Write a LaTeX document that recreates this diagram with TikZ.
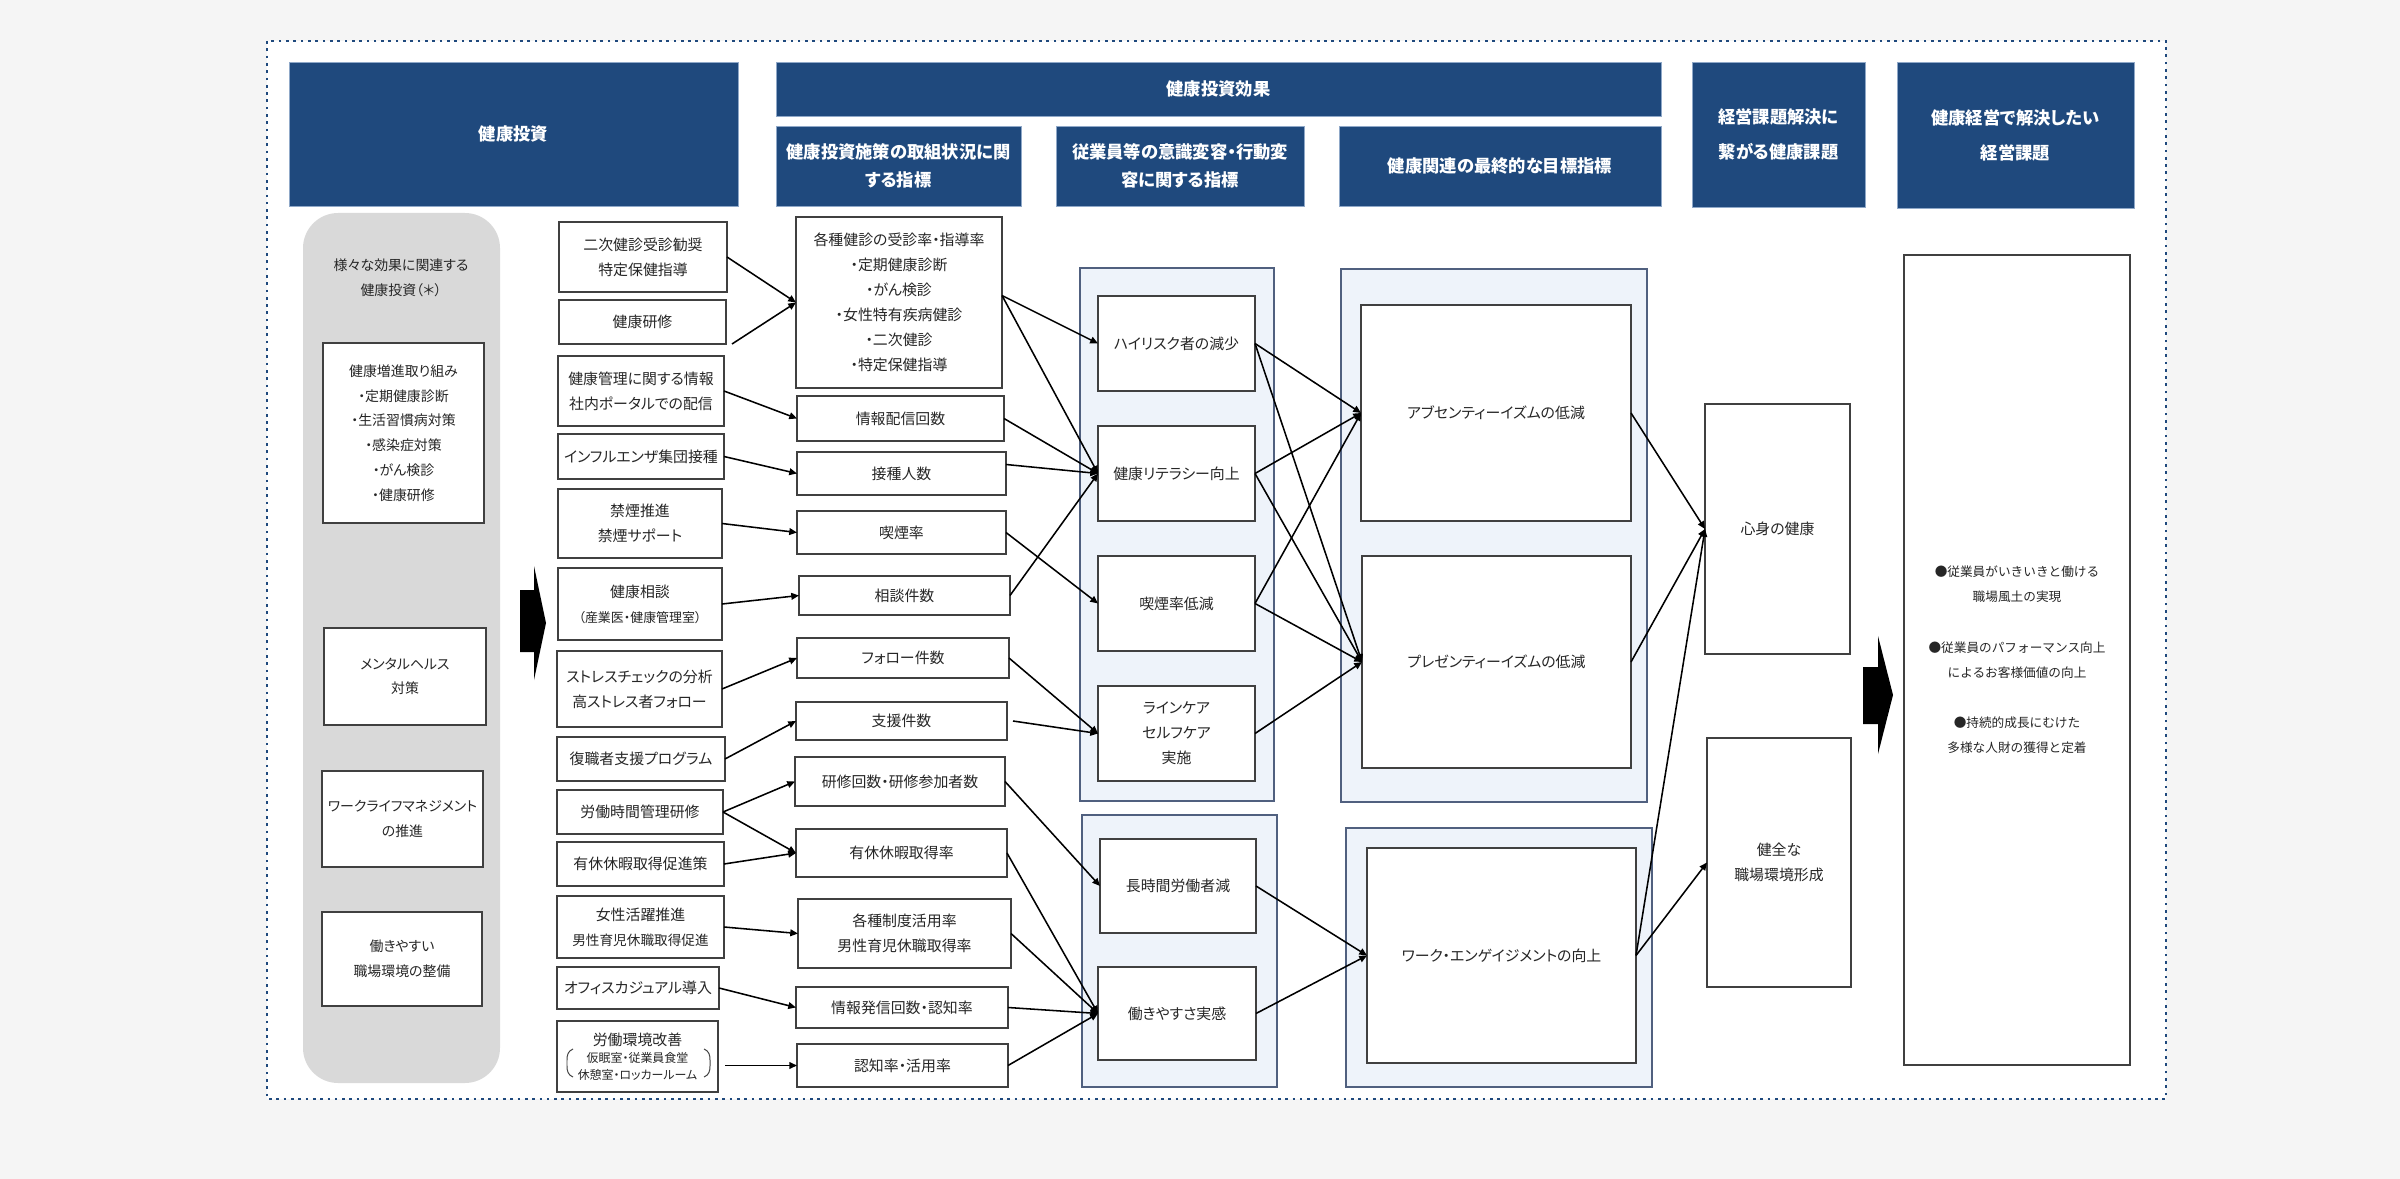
\documentclass[tikz,border=0pt]{standalone}
\usepackage{fontspec}
\setmainfont{Noto Sans CJK JP}[RawFeature=+palt]
\newfontfamily\jpfull{Noto Sans CJK JP}
\usetikzlibrary{arrows.meta,calc}
\definecolor{hdr}{HTML}{1F497D}
\definecolor{hdredge}{HTML}{8FA8C8}
\definecolor{boxline}{HTML}{404040}
\definecolor{txt}{HTML}{262626}
\definecolor{panelfill}{HTML}{EEF3FA}
\definecolor{panelline}{HTML}{50607F}
\definecolor{grayfill}{HTML}{D9D9D9}
\definecolor{bgout}{HTML}{F5F5F5}
\definecolor{dotline}{HTML}{1F497D}
\newcommand\myboxfont{\fontsize{10.6pt}{17.8pt}\selectfont}
\newcommand\mysmfont{\fontsize{9.2pt}{17.8pt}\selectfont}
\newcommand\mymidfont{\fontsize{9.7pt}{17.8pt}\selectfont}
\newcommand\mytinyfont{\fontsize{8.5pt}{12pt}\selectfont}
\newcommand\mygrayfont{\fontsize{9.9pt}{17.6pt}\selectfont}
\newcommand\myhdrfont{\fontsize{12.3pt}{19.9pt}\selectfont\bfseries}
\newcommand\myhdrfontb{\fontsize{12.3pt}{24.9pt}\selectfont\bfseries}
\newcommand\myrightfont{\jpfull\fontsize{9pt}{17.8pt}\selectfont}
\newcommand\placebox[7]{\node[#6, minimum width={((#4)-(#2))*0.25mm}, minimum height={((#5)-(#3))*0.25mm}] (#1) at ({((#2)+(#4))/2},{((#3)+(#5))/2}) {#7};}
\tikzset{
  hdrbox/.style={fill=hdr, draw=hdredge, line width=0.5pt, text=white, font=\myhdrfont, align=center, inner sep=0pt, outer sep=0pt},
  wbox/.style={fill=white, draw=boxline, line width=1.2pt, text=txt, font=\myboxfont, align=center, inner sep=0pt, outer sep=0pt},
  gbox/.style={wbox, font=\mygrayfont},
  rbox/.style={wbox, font=\myrightfont},
  panel/.style={fill=panelfill, draw=panelline, line width=0.8pt, inner sep=0pt, outer sep=0pt},
  grayp/.style={fill=grayfill, rounded corners=25pt, inner sep=0pt, outer sep=0pt},
  conn/.style={line width=1.1pt, black, -{Triangle[length=5.5pt,width=4.8pt]}},
  bracketline/.style={line width=0.7pt, boxline},
}
\begin{document}
\begin{tikzpicture}[x=0.25mm, y=-0.25mm]
\useasboundingbox (0,0) rectangle (2400,1179);
\fill[bgout] (0,0) rectangle (2400,1179);
\fill[white] (267,41) rectangle (2166,1099);
\draw[dotline, line width=1.9pt, dash pattern=on 1.9pt off 3.3pt] (267,41) rectangle (2166,1099);

% headers
\placebox{H1}{289}{62}{738}{206}{hdrbox}{健康投資}
\placebox{H2}{776}{62}{1661}{116}{hdrbox}{健康投資効果}
\placebox{S1}{776}{126}{1021}{206}{hdrbox}{健康投資施策の取組状況に関\\する指標}
\placebox{S2}{1056}{126}{1304}{206}{hdrbox}{従業員等の意識変容・行動変\\容に関する指標}
\placebox{S3}{1339}{126}{1661}{206}{hdrbox}{健康関連の最終的な目標指標}
\placebox{H3}{1692}{62}{1865}{207}{hdrbox,font=\myhdrfontb}{経営課題解決に\\繋がる健康課題}
\placebox{H4}{1897}{62}{2134}{208}{hdrbox,font=\myhdrfontb}{健康経営で解決したい\\経営課題}

% gray column
\placebox{G}{303}{213}{500}{1083}{grayp}{}
\node[font=\mygrayfont, text=txt, align=center, inner sep=0pt] (gt) at (401,278) {様々な効果に関連する\\健康投資（＊）};
\placebox{i1}{323}{343}{484}{523}{gbox}{健康増進取り組み\\・定期健康診断\\・生活習慣病対策\\・感染症対策\\・がん検診\\・健康研修}
\placebox{i2}{324}{628}{486}{725}{gbox}{メンタルヘルス\\対策}
\placebox{i3}{322}{771}{483}{867}{gbox}{ワークライフマネジメント\\の推進}
\placebox{i4}{322}{912}{482}{1006}{gbox}{働きやすい\\職場環境の整備}

% big arrows
\fill[black] (520,590) -- (534,590) -- (534,566) -- (546,623) -- (534,680) -- (534,652) -- (520,652) -- cycle;
\fill[black] (1863,667) -- (1878,667) -- (1878,636) -- (1893,695) -- (1878,754) -- (1878,724) -- (1863,724) -- cycle;

% column 2
\placebox{a1}{559}{222}{727}{292}{wbox}{二次健診受診勧奨\\特定保健指導}
\placebox{a2}{559}{300}{726}{344}{wbox}{健康研修}
\placebox{a3}{558}{356}{724}{426}{wbox}{健康管理に関する情報\\社内ポータルでの配信}
\placebox{a4}{558}{434}{724}{479}{wbox}{インフルエンザ集団接種}
\placebox{a5}{558}{489}{722}{558}{wbox}{禁煙推進\\禁煙サポート}
\placebox{a6}{558}{568}{722}{640}{wbox}{健康相談\\{\mysmfont （産業医・健康管理室）}}
\placebox{a7}{557}{651}{722}{727}{wbox}{ストレスチェックの分析\\高ストレス者フォロー}
\placebox{a8}{557}{737}{725}{781}{wbox}{復職者支援プログラム}
\placebox{a9}{557}{790}{723}{834}{wbox}{労働時間管理研修}
\placebox{a10}{557}{842}{724}{886}{wbox}{有休休暇取得促進策}
\placebox{a11}{557}{896}{724}{958}{wbox}{女性活躍推進\\{\mymidfont 男性育児休職取得促進}}
\placebox{a12}{557}{967}{719}{1009}{wbox}{オフィスカジュアル導入}
\placebox{a13}{557}{1021}{718}{1092}{wbox,font=\mytinyfont}{{\myboxfont 労働環境改善}\\仮眠室・従業員食堂\\休憩室・ロッカールーム}
\draw[bracketline] (573,1049) .. controls (568,1051) and (567,1055) .. (567,1060) -- (567,1066) .. controls (567,1071) and (568,1075) .. (573,1077);
\draw[bracketline] (704,1049) .. controls (709,1051) and (710,1055) .. (710,1060) -- (710,1066) .. controls (710,1071) and (709,1075) .. (704,1077);

% column 3
\placebox{b1}{796}{217}{1002}{388}{wbox}{各種健診の受診率・指導率\\・定期健康診断\\・がん検診\\・女性特有疾病健診\\・二次健診\\・特定保健指導}
\placebox{b2}{797}{396}{1004}{441}{wbox}{情報配信回数}
\placebox{b3}{797}{452}{1006}{495}{wbox}{接種人数}
\placebox{b4}{797}{511}{1006}{554}{wbox}{喫煙率}
\placebox{b5}{799}{576}{1010}{615}{wbox}{相談件数}
\placebox{b6}{797}{638}{1009}{678}{wbox}{フォロー件数}
\placebox{b7}{796}{702}{1007}{740}{wbox}{支援件数}
\placebox{b8}{795}{757}{1005}{806}{wbox}{研修回数・研修参加者数}
\placebox{b9}{796}{829}{1007}{877}{wbox}{有休休暇取得率}
\placebox{b10}{798}{899}{1011}{968}{wbox}{各種制度活用率\\男性育児休職取得率}
\placebox{b11}{796}{987}{1008}{1028}{wbox}{情報発信回数・認知率}
\placebox{b12}{797}{1044}{1008}{1087}{wbox}{認知率・活用率}

% panels
\placebox{P1}{1080}{268}{1274}{801}{panel}{}
\placebox{P2}{1341}{269}{1647}{802}{panel}{}
\placebox{P3}{1082}{815}{1277}{1087}{panel}{}
\placebox{P4}{1346}{828}{1652}{1087}{panel}{}

% column 4
\placebox{c1}{1098}{296}{1255}{391}{wbox}{ハイリスク者の減少}
\placebox{c2}{1098}{426}{1255}{521}{wbox}{健康リテラシー向上}
\placebox{c3}{1098}{556}{1255}{651}{wbox}{喫煙率低減}
\placebox{c4}{1098}{686}{1255}{781}{wbox}{ラインケア\\セルフケア\\実施}
\placebox{e1}{1100}{839}{1256}{933}{wbox}{長時間労働者減}
\placebox{e2}{1098}{967}{1256}{1060}{wbox}{働きやすさ実感}

% column 5
\placebox{d1}{1361}{305}{1631}{521}{wbox}{アブセンティーイズムの低減}
\placebox{d2}{1362}{556}{1631}{768}{wbox}{プレゼンティーイズムの低減}
\placebox{f1}{1367}{848}{1636}{1063}{wbox}{ワーク・エンゲイジメントの向上}

% column 6, 7
\placebox{g1}{1705}{404}{1850}{654}{wbox}{心身の健康}
\placebox{g2}{1707}{738}{1851}{987}{wbox}{健全な\\職場環境形成}
\placebox{h1}{1904}{255}{2130}{1065}{rbox}{●従業員がいきいきと働ける\\職場風土の実現\\[18pt]●従業員のパフォーマンス向上\\によるお客様価値の向上\\[18pt]●持続的成長にむけた\\多様な人財の獲得と定着}

% connectors column 2 -> 3
\draw[conn] (a1.east) -- (b1.west);
\draw[conn] ($(a2.south east)+(6,0)$) -- (b1.west);
\draw[conn] (a3.east) -- (b2.west);
\draw[conn] (a4.east) -- (b3.west);
\draw[conn] (a5.east) -- (b4.west);
\draw[conn] (a6.east) -- (b5.west);
\draw[conn] (a7.east) -- (b6.west);
\draw[conn] (a8.east) -- (b7.west);
\draw[conn] (a9.east) -- (b8.west);
\draw[conn] (a9.east) -- (b9.west);
\draw[conn] (a10.east) -- (b9.west);
\draw[conn] (a11.east) -- (b10.west);
\draw[conn] (a12.east) -- (b11.west);
\draw[conn] ($(a13.east |- b12.west)+(7,0)$) -- (b12.west);

% column 3 -> 4
\draw[conn] ($(b1.east)+(0,-7)$) -- (c1.west);
\draw[conn] ($(b1.east)+(0,-7)$) -- (c2.west);
\draw[conn] (b2.east) -- (c2.west);
\draw[conn] ($(b3.east)+(0,-9)$) -- (c2.west);
\draw[conn] (b4.east) -- (c3.west);
\draw[conn] (b5.east) -- (c2.west);
\draw[conn] (b6.east) -- (c4.west);
\draw[conn] ($(b7.east)+(6,0)$) -- (c4.west);
\draw[conn] (b8.east) -- (e1.west);
\draw[conn] (b9.east) -- (e2.west);
\draw[conn] (b10.east) -- (e2.west);
\draw[conn] (b11.east) -- (e2.west);
\draw[conn] (b12.east) -- (e2.west);

% column 4 -> 5
\draw[conn] (c1.east) -- (d1.west);
\draw[conn] (c1.east) -- (d2.west);
\draw[conn] (c2.east) -- (d1.west);
\draw[conn] (c2.east) -- (d2.west);
\draw[conn] (c3.east) -- (d1.west);
\draw[conn] (c3.east) -- (d2.west);
\draw[conn] (c4.east) -- (d2.west);
\draw[conn] (e1.east) -- (f1.west);
\draw[conn] (e2.east) -- (f1.west);

% column 5 -> 6
\draw[conn] (d1.east) -- (g1.west);
\draw[conn] (d2.east) -- (g1.west);
\draw[conn] (f1.east) -- (g1.west);
\draw[conn] (f1.east) -- (g2.west);
\end{tikzpicture}
\end{document}
